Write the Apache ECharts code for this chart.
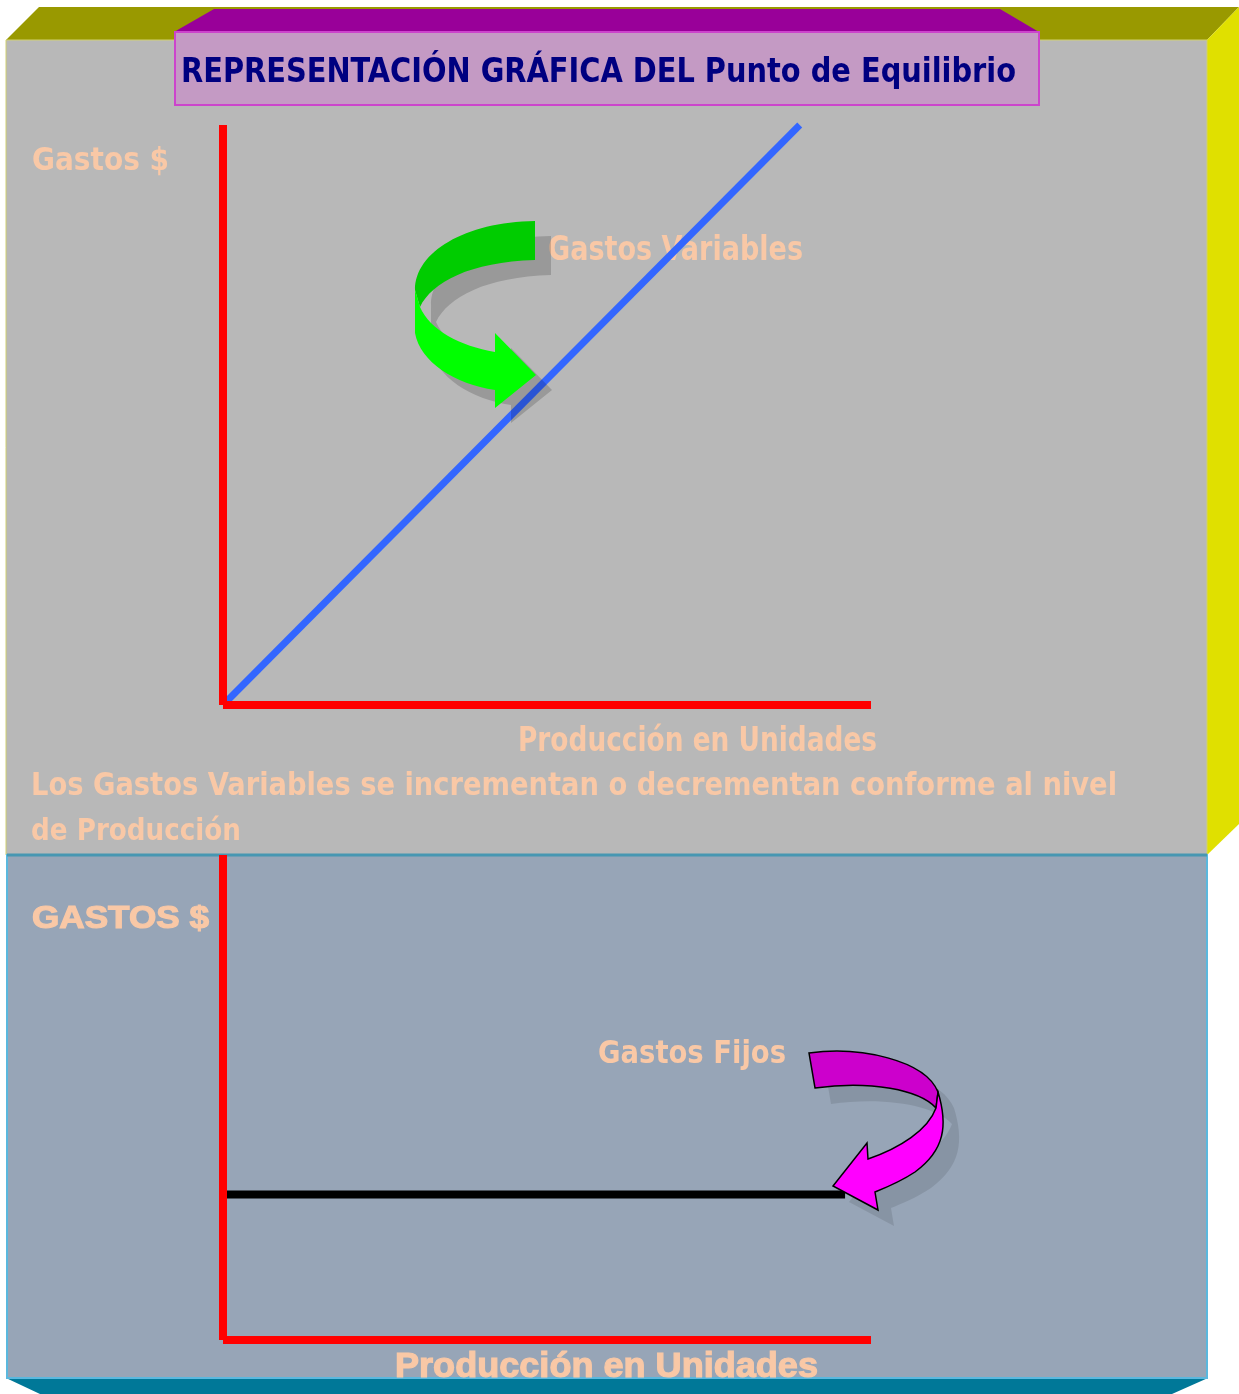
<!DOCTYPE html>
<html>
<head>
<meta charset="utf-8">
<script src="https://cdn.jsdelivr.net/npm/echarts@6/dist/echarts.min.js"></script>
<style>
  html, body { margin: 0; padding: 0; background: #ffffff; }
  #chart { width: 1239px; height: 1394px; }
</style>
</head>
<body>
<div id="chart"></div>
<script>
// Gastos variables: crecen con la producción
const produccionVariable = [0, 89];
const gastosVariables = [0, 100];
// Gastos fijos: constantes sea cual sea la producción
const produccionFija = [0, 96];
const gastosFijos = [30, 30];

const titulo = 'REPRESENTACIÓN GRÁFICA DEL Punto de Equilibrio';
const nota = 'Los Gastos Variables se incrementan o decrementan conforme al nivel';

const peach = '#f9c8a6';
const comic = "'DejaVu Sans Condensed', 'DejaVu Sans', sans-serif";
const arial = "'Liberation Sans', Arial, sans-serif";

// tamaño según la altura de mayúsculas y estirado al ancho que ocupa en la imagen
const ctx = document.createElement('canvas').getContext('2d');
function label(text, x, baseline, width, cap, family, color, z) {
    family = family || comic;
    const size = cap / (family === arial ? 0.716 : 0.729);
    ctx.font = 'bold ' + size + 'px ' + family;
    const natural = ctx.measureText(text).width;
    const style = {
        text: text, fill: color || peach, fontWeight: 'bold',
        fontFamily: family, fontSize: size,
        verticalAlign: 'middle', align: 'left'
    };
    if (family === arial) {
        // el original usa un trazo más grueso
        style.stroke = peach;
        style.lineWidth = 1.2;
    }
    return {
        type: 'text', x: x, y: baseline - cap / 2 + 3, z: z || 1,
        scaleX: width / natural, style: style
    };
}

function axisOpt(grid) {
    return {
        type: 'value', gridIndex: grid, min: 0, max: 100, z: 3,
        axisLine: { show: true, onZero: false, lineStyle: { color: '#ff0000', width: 8, cap: 'butt' } },
        axisTick: { show: false }, axisLabel: { show: false }, splitLine: { show: false }
    };
}

const chart = echarts.init(document.getElementById('chart'));

const fondo = [
    // caja superior
    { type: 'polygon', z: -5, shape: { points: [[6, 40], [39, 7], [1239, 7], [1207, 40]] }, style: { fill: '#999900' } },
    { type: 'polygon', z: -5, shape: { points: [[1207, 40], [1239, 7], [1239, 824], [1207, 855]] }, style: { fill: '#e0e000' } },
    { type: 'rect', z: -5, shape: { x: 6, y: 40, width: 1201, height: 815 }, style: { fill: '#b8b8b8', stroke: '#d0d070', lineWidth: 1 } },
    // caja inferior
    { type: 'polygon', z: -5, shape: { points: [[6, 1378], [1208, 1378], [1172, 1394], [40, 1394]] }, style: { fill: '#007898' } },
    { type: 'rect', z: -5, shape: { x: 7, y: 855, width: 1200, height: 523 }, style: { fill: '#97a5b7', stroke: '#5ab8de', lineWidth: 2 } },
    { type: 'line', z: -4, shape: { x1: 7, y1: 855, x2: 1207, y2: 855 }, style: { stroke: '#4797b2', lineWidth: 3 } },
    // recuadro del título
    { type: 'polygon', z: -4, shape: { points: [[174, 32], [214, 9], [1000, 9], [1039, 32]] }, style: { fill: '#990099' } },
    { type: 'rect', z: -4, shape: { x: 175, y: 32, width: 864, height: 73 }, style: { fill: '#c49ac4', stroke: '#cc44cc', lineWidth: 2 } }
];

const textos = [
    label(titulo, 181, 83, 835, 25, comic, '#000080', 5),
    label('Gastos $', 32, 170, 137, 23),
    label('Gastos Variables', 548, 261, 255, 25),
    label('Producción en Unidades', 518, 751, 359, 24),
    label(nota, 31, 795, 1086, 23),
    label('de Producción', 31, 840, 210, 22),
    label('GASTOS $', 32, 928, 177, 23, arial),
    label('Gastos Fijos', 598, 1063, 188, 23),
    label('Producción en Unidades', 395, 1377, 423, 25, arial)
];

// flechas curvas decorativas
const verde = 'M 535 221 C 465 222 415 252 415 290 L 420 307 C 432 282 470 262 535 260 Z';
const verdeClaro = 'M 415 290 L 415 333 C 420 362 455 384 495 390 L 495 408 L 536 375 L 495 333 L 495 352 C 460 346 430 330 420 307 Z';
const magenta = 'M 809 1053 C 860 1046 925 1060 938 1092 L 936 1108 C 920 1090 870 1080 815 1088 Z';
const magentaClaro = 'M 938 1092 C 948 1125 945 1150 915 1172 C 900 1182 885 1188 875 1192 L 878 1210 L 833 1186 L 867 1143 L 868 1159 C 900 1148 928 1130 936 1108 Z';

function flechas() {
    const p = (d, fill, dx, dy, stroke) => ({
        type: 'path', x: dx || 0, y: dy || 0,
        shape: { pathData: d },
        style: stroke ? { fill: fill, stroke: '#000', lineWidth: 1.5 } : { fill: fill }
    });
    return {
        type: 'group',
        children: [
            p(verde, 'rgba(0,0,0,0.17)', 16, 15),
            p(verdeClaro, 'rgba(0,0,0,0.17)', 16, 15),
            p(verde, '#00cc00'),
            p(verdeClaro, '#00ff00'),
            p(magenta, 'rgba(0,0,0,0.1)', 16, 16),
            p(magentaClaro, 'rgba(0,0,0,0.1)', 16, 16),
            p(magenta, '#cc00cc', 0, 0, true),
            p(magentaClaro, '#ff00ff', 0, 0, true)
        ]
    };
}

chart.setOption({
    animation: false,
    backgroundColor: '#ffffff',
    grid: [
        { left: 223, top: 125, width: 648, height: 580 },
        { left: 223, top: 855, width: 648, height: 485 }
    ],
    xAxis: [axisOpt(0), axisOpt(1)],
    yAxis: [axisOpt(0), axisOpt(1)],
    series: [
        {
            name: 'Gastos Variables', type: 'line', xAxisIndex: 0, yAxisIndex: 0, z: 2,
            data: produccionVariable.map((x, i) => [x, gastosVariables[i]]),
            symbol: 'none', clip: false,
            lineStyle: { color: '#3366ff', width: 7, cap: 'butt' }
        },
        {
            name: 'Gastos Fijos', type: 'line', xAxisIndex: 1, yAxisIndex: 1, z: 2,
            data: produccionFija.map((x, i) => [x, gastosFijos[i]]),
            symbol: 'none', clip: false,
            lineStyle: { color: '#000000', width: 8, cap: 'butt' }
        },
        {
            name: 'Flechas', type: 'custom', coordinateSystem: 'none', z: 10,
            data: [0], renderItem: flechas, silent: true
        }
    ],
    graphic: { elements: fondo.concat(textos) }
});
</script>
</body>
</html>
